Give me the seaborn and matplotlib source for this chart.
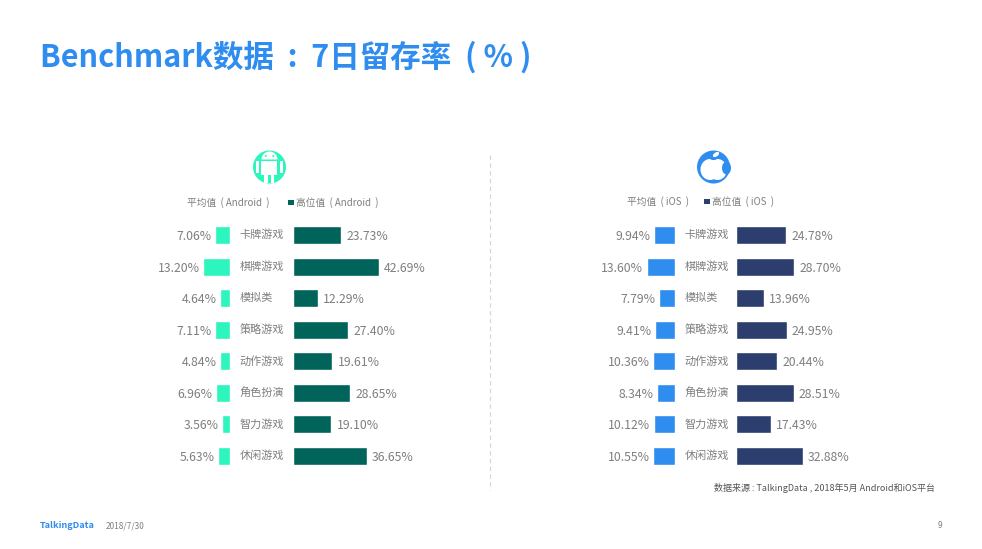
import pandas as pd
import seaborn as sns
import numpy as np
import matplotlib
matplotlib.use('Agg')
import matplotlib.pyplot as plt
from matplotlib.patches import Circle, Rectangle, Wedge, Ellipse

categories = ['卡牌游戏', '棋牌游戏', '模拟类', '策略游戏', '动作游戏', '角色扮演', '智力游戏', '休闲游戏']
android_avg = [7.06, 13.20, 4.64, 7.11, 4.84, 6.96, 3.56, 5.63]
android_high = [23.73, 42.69, 12.29, 27.40, 19.61, 28.65, 19.10, 36.65]
ios_avg = [9.94, 13.60, 7.79, 9.41, 10.36, 8.34, 10.12, 10.55]
ios_high = [24.78, 28.70, 13.96, 24.95, 20.44, 28.51, 17.43, 32.88]

W, H = 982, 549
BLUE = '#2E8DEF'
MINT = '#2CF5BE'
TEAL = '#00645A'
NAVY = '#2C3E6D'
GREY = '#7F7F7F'

sns.set_theme(style='white')
plt.rcParams['font.family'] = ['Noto Sans CJK SC', 'DejaVu Sans']

fig = plt.figure(figsize=(W / 100, H / 100), dpi=100, facecolor='white')

# full page layer in pixel coordinates for title, icons and footer
page = fig.add_axes([0, 0, 1, 1])
page.set_xlim(0, W)
page.set_ylim(H, 0)
page.axis('off')


def px_axes(left, right, top=219.2, bottom=471.8):
    return fig.add_axes([left / W, 1 - bottom / H, (right - left) / W, (bottom - top) / H])


def draw_bars(values, color, left, right, xlim, side, pad):
    ax = px_axes(left, right)
    df = pd.DataFrame({'cat': categories, 'val': values})
    sns.barplot(data=df, x='val', y='cat', color=color, saturation=1, width=0.57, ax=ax)
    ax.set_xlim(*xlim)
    ax.set_xlabel('')
    ax.set_ylabel('')
    ax.set_xticks([])
    ax.patch.set_alpha(0)
    sns.despine(ax=ax, left=True, bottom=True)
    for t in ax.bar_label(ax.containers[0], fmt='%.2f%%', padding=pad, color=GREY, fontsize=8.8):
        t.set_va('center_baseline')
    if side == 'left':
        ax.yaxis.tick_right()
        ax.tick_params(axis='y', length=0, pad=7.2, labelsize=8, labelcolor=GREY)
        for lab in ax.get_yticklabels():
            lab.set_ha('left')
            lab.set_va('center')
    else:
        ax.set_yticks([])
    return ax


draw_bars(android_avg, MINT, 129.5, 229.5, (50, 0), 'left', 2.5)
draw_bars(android_high, TEAL, 293, 433, (0, 69.8), 'right', 4)
draw_bars(ios_avg, BLUE, 574.5, 674.5, (48.8, 0), 'left', 2.5)
draw_bars(ios_high, NAVY, 736, 876, (0, 69), 'right', 3.6)

# title
page.text(40, 57, 'Benchmark数据  :  7日留存率  ( % )', color=BLUE, fontsize=22,
          fontweight='bold', va='center', ha='left')

# divider
page.plot([490, 490], [155, 490], color='#D0D5D8', lw=0.8, ls=(0, (4, 3)))

# legends
page.text(187, 202.5, '平均值  ( Android  )', color=GREY, fontsize=7, va='center', ha='left')
page.add_patch(Rectangle((288, 199.5), 6, 5.5, color=TEAL, lw=0))
page.text(296, 202.5, '高位值  ( Android  )', color=GREY, fontsize=7, va='center', ha='left')
page.text(627, 201.5, '平均值  ( iOS  )', color=GREY, fontsize=7, va='center', ha='left')
page.add_patch(Rectangle((704, 198.5), 6, 5.5, color=NAVY, lw=0))
page.text(712, 201.5, '高位值  ( iOS  )', color=GREY, fontsize=7, va='center', ha='left')

# android icon
cx, cy = 269.5, 167
page.add_patch(Circle((cx, cy), 16.5, color=MINT, lw=0))
page.add_patch(Wedge((cx, 159.5), 8, 180, 360, color='white', lw=0))
page.add_patch(Rectangle((cx - 8, 160.5), 16, 14.5, color='white', lw=0))
page.add_patch(Rectangle((cx - 13.5, 161), 3.3, 12, color='white', lw=0))
page.add_patch(Rectangle((cx + 10.2, 161), 3.3, 12, color='white', lw=0))
page.add_patch(Rectangle((cx - 5, 175), 3.6, 8, color='white', lw=0))
page.add_patch(Rectangle((cx + 1.4, 175), 3.6, 8, color='white', lw=0))
page.add_patch(Circle((cx - 3.8, 156), 1, color=MINT, lw=0))
page.add_patch(Circle((cx + 3.8, 156), 1, color=MINT, lw=0))

# apple icon
ax_, ay_ = 713.5, 167
page.add_patch(Circle((ax_, ay_), 16.5, color=BLUE, lw=0))
page.add_patch(Ellipse((ax_ - 3.5, ay_ + 2.5), 19, 21, color='white', lw=0))
page.add_patch(Ellipse((ax_ + 4, ay_ + 2.5), 19, 21, color='white', lw=0))
page.add_patch(Ellipse((ax_ + 13, ay_ + 1), 9, 13, color=BLUE, lw=0))
page.add_patch(Ellipse((ax_, ay_ - 8.5), 7, 3, color=BLUE, lw=0))
page.add_patch(Ellipse((ax_ + 2.5, ay_ - 12.5), 7, 4, angle=-35, color='white', lw=0))

# footer
page.text(935, 488, '数据来源 : TalkingData , 2018年5月 Android和iOS平台', color='#555555',
          fontsize=6.5, va='center', ha='right')
page.text(40, 526, 'TalkingData', color=BLUE, fontsize=6.6, fontweight='bold', va='center', ha='left')
page.text(106, 526.5, '2018/7/30', color=GREY, fontsize=6, va='center', ha='left')
page.text(942, 526, '9', color=GREY, fontsize=6, va='center', ha='right')

fig.savefig('out.png', dpi=100, facecolor='white')
